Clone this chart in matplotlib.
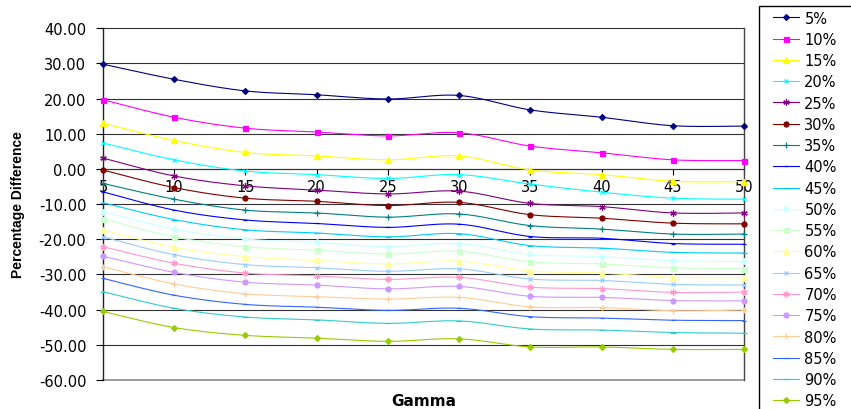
import numpy as np
import matplotlib
matplotlib.use("Agg")
import matplotlib.pyplot as plt
from matplotlib.patches import Rectangle

# ---- data -----------------------------------------------------------------
gamma = [5, 10, 15, 20, 25, 30, 35, 40, 45, 50]

series_labels = ["5%", "10%", "15%", "20%", "25%", "30%", "35%", "40%", "45%", "50%",
                 "55%", "60%", "65%", "70%", "75%", "80%", "85%", "90%", "95%"]

p05 = [29.8, 25.5, 22.2, 21.1, 19.9, 20.9, 16.8, 14.7, 12.3, 12.2]
p10 = [19.7, 14.7, 11.6, 10.5, 9.4, 10.3, 6.5, 4.6, 2.6, 2.4]
p15 = [13.0, 8.1, 4.7, 3.7, 2.6, 3.7, -0.3, -1.6, -3.5, -3.6]
p20 = [7.4, 2.6, -0.6, -1.6, -2.7, -1.6, -4.3, -6.6, -8.3, -8.6]
p25 = [3.1, -2.0, -4.8, -6.0, -7.1, -6.3, -9.8, -10.7, -12.5, -12.5]
p30 = [-0.3, -5.3, -8.3, -9.2, -10.4, -9.5, -13.0, -14.0, -15.4, -15.6]
p35 = [-4.1, -8.6, -11.7, -12.5, -13.7, -12.8, -16.1, -17.1, -18.5, -18.5]
p40 = [-6.5, -11.7, -14.5, -15.5, -16.6, -15.7, -19.2, -19.7, -21.2, -21.4]
p45 = [-9.6, -14.4, -17.3, -18.2, -19.3, -18.4, -21.8, -22.5, -23.7, -23.9]
p50 = [-12.1, -17.1, -19.9, -20.9, -22.1, -21.2, -24.3, -24.9, -26.1, -26.3]
p55 = [-14.2, -19.3, -22.1, -23.1, -24.2, -23.4, -26.4, -27.0, -28.1, -28.3]
p60 = [-17.3, -22.3, -24.9, -26.0, -27.0, -26.2, -29.0, -29.6, -30.8, -30.9]
p65 = [-19.3, -24.4, -27.2, -28.1, -29.1, -28.4, -31.3, -31.7, -32.8, -33.0]
p70 = [-22.1, -26.8, -29.6, -30.4, -31.4, -30.8, -33.6, -34.0, -35.1, -35.0]
p75 = [-24.8, -29.4, -32.2, -33.0, -34.1, -33.4, -36.2, -36.5, -37.4, -37.5]
p80 = [-27.8, -32.7, -35.5, -36.3, -37.0, -36.5, -39.2, -39.4, -40.3, -40.1]
p85 = [-31.1, -35.9, -38.5, -39.3, -40.2, -39.6, -42.0, -42.4, -43.0, -43.1]
p90 = [-34.9, -39.6, -42.1, -42.9, -43.9, -43.2, -45.5, -45.8, -46.5, -46.7]
p95 = [-40.5, -45.1, -47.3, -48.1, -49.0, -48.3, -50.6, -50.6, -51.3, -51.3]

all_series = [p05, p10, p15, p20, p25, p30, p35, p40, p45, p50,
              p55, p60, p65, p70, p75, p80, p85, p90, p95]

y_ticks = list(range(-60, 41, 10))

# ---- styles (classic spreadsheet palette / marker cycle) -------------------
colors = ["#000080", "#FF00FF", "#FFFF00", "#00FFFF", "#800080", "#800000",
          "#008080", "#0000FF", "#00CCFF", "#CCFFFF", "#CCFFCC", "#FFFF99",
          "#99CCFF", "#FF99CC", "#CC99FF", "#FFCC99", "#3366FF", "#33CCCC",
          "#99CC00"]
marker_cycle = [("D", 3.0), ("s", 3.6), ("^", 4.2), ("x", 3.4), ((6, 2, 0), 4.6),
                ("o", 3.6), ("+", 4.6), ("_", 3.4), ("_", 5.0)]


def smooth_curve(xs, ys, n=24):
    """Cubic Bezier smoothing through every point (Catmull-Rom tangents)."""
    xs = np.asarray(xs, float)
    ys = np.asarray(ys, float)
    px = np.concatenate([[xs[0]], xs, [xs[-1]]])
    py = np.concatenate([[ys[0]], ys, [ys[-1]]])
    t = np.linspace(0, 1, n, endpoint=False)[:, None]
    out = []
    for i in range(len(xs) - 1):
        p0 = np.array([px[i], py[i]])
        p1 = np.array([px[i + 1], py[i + 1]])
        p2 = np.array([px[i + 2], py[i + 2]])
        p3 = np.array([px[i + 3], py[i + 3]])
        c1 = p1 + (p2 - p0) / 6.0
        c2 = p2 - (p3 - p1) / 6.0
        seg = ((1 - t) ** 3) * p1 + 3 * ((1 - t) ** 2) * t * c1 \
            + 3 * (1 - t) * t ** 2 * c2 + t ** 3 * p2
        out.append(seg)
    out.append(np.array([[xs[-1], ys[-1]]]))
    pts = np.vstack(out)
    return pts[:, 0], pts[:, 1], [i * n for i in range(len(xs))]


plt.rcParams["font.family"] = ["DejaVu Sans"]

fig = plt.figure(figsize=(8.51, 4.10), dpi=100)
ax = fig.add_axes([103 / 851, 1 - 381 / 410, (744 - 103) / 851, (381 - 29.3) / 410])

for k, (vals, lab) in enumerate(zip(all_series, series_labels)):
    mk, ms = marker_cycle[k % len(marker_cycle)]
    sx, sy, idx = smooth_curve(gamma, vals)
    ax.plot(sx, sy, color=colors[k], lw=0.8, marker=mk, ms=ms, markevery=idx,
            mfc=colors[k], mec=colors[k], mew=0.9, label=lab, zorder=3,
            clip_on=False)

ax.set_xlim(gamma[0], gamma[-1])
ax.set_ylim(y_ticks[0], y_ticks[-1])

# horizontal gridlines
for yv in y_ticks[1:]:
    ax.axhline(yv, color="#333333", lw=0.8, zorder=1, clip_on=False)
ax.axhline(y_ticks[0], color="#8c8c8c", lw=1.2, zorder=1, clip_on=False)

ax.set_yticks(y_ticks)
ax.set_yticklabels([f"{v:.2f}" for v in y_ticks])
ax.set_xticks(gamma)
ax.set_xticklabels([str(g) for g in gamma])

ax.spines["top"].set_visible(False)
ax.spines["right"].set_color("#444444")
ax.spines["right"].set_linewidth(1.0)
ax.spines["left"].set_color("#222222")
ax.spines["left"].set_linewidth(1.0)
ax.spines["bottom"].set_position(("data", 0))
ax.spines["bottom"].set_color("#333333")
ax.spines["bottom"].set_linewidth(0.8)

ax.tick_params(axis="y", direction="out", length=5, width=0.8, pad=7,
               labelsize=10.5, colors="black")
ax.tick_params(axis="x", direction="out", length=4, width=0.8, pad=3,
               labelsize=10.5, colors="black")
for lbl in ax.get_xticklabels():
    lbl.set_zorder(2)

fig.text(18 / 851, 1 - 205 / 410, "Percentage Difference", rotation=90,
         ha="center", va="center", fontsize=10, fontweight="bold",
         family="Liberation Sans")
fig.text(424 / 851, 1 - 406 / 410, "Gamma", ha="center", va="baseline",
         fontsize=11, fontweight="bold")

# legend
fig.add_artist(Rectangle((759 / 851, -0.2), 0.5, 1.2 - 7 / 410, fill=False,
                         ec="black", lw=1.0, transform=fig.transFigure,
                         clip_on=False))
fig.legend(loc="upper left", bbox_to_anchor=(773 / 851, 1 - 11.5 / 410),
           frameon=False, fontsize=10.5, handlelength=1.8, handletextpad=0.35,
           labelspacing=0.43, borderpad=0, borderaxespad=0)

fig.savefig("out.png", dpi=100)
